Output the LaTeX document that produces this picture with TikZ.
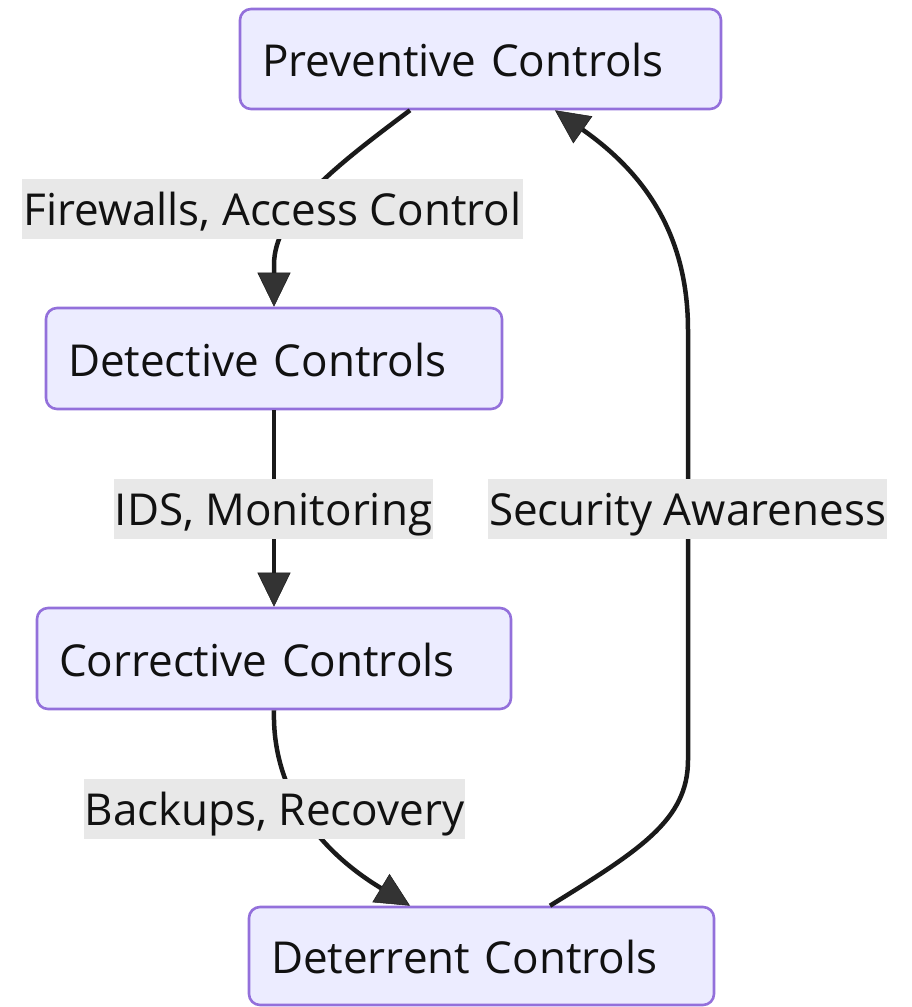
\documentclass[tikz,border=0pt]{standalone}
\usepackage{fontspec}
\setmainfont{Open Sans}
\usetikzlibrary{arrows.meta}

\definecolor{nodefill}{HTML}{ECECFF}
\definecolor{nodeline}{HTML}{9370DB}
\definecolor{labelfill}{HTML}{E8E8E8}
\definecolor{edgeline}{HTML}{1A1A1A}
\definecolor{tipfill}{HTML}{333333}
\definecolor{textcol}{HTML}{111111}

\tikzset{
  ctrlbox/.style={draw=nodeline, fill=nodefill, line width=2.6pt,
    rounded corners=11pt, inner xsep=22pt, inner ysep=0pt,
    align=left, text height=35pt, text depth=0pt,
    font=\fontsize{44pt}{50pt}\selectfont, text=textcol},
  edgelabel/.style={fill=labelfill, inner xsep=1pt, inner ysep=0pt,
    minimum height=60pt, text height=33pt, text depth=0pt,
    font=\fontsize{44pt}{50pt}\selectfont, text=textcol},
  flow/.style={draw=edgeline, line width=4.5pt,
    -{Triangle[length=34pt,width=33pt,fill=tipfill,line width=0.5pt]}},
}

\begin{document}
\begin{tikzpicture}[x=1pt,y=-1pt]
\useasboundingbox (0,0) rectangle (911,1007);

% the four control boxes
\node[ctrlbox, text width=437pt, minimum height=100pt] (prev) at (480.5,59) {Preventive Controls};
\node[ctrlbox, text width=412pt, minimum height=101pt] (det) at (274,358.5) {Detective Controls};
\node[ctrlbox, text width=430pt, minimum height=101pt] (corr) at (274,658.5) {Corrective Controls};
\node[ctrlbox, text width=421pt, minimum height=98pt] (deter) at (481.5,956) {Deterrent Controls};

% attachment points on the box borders
\coordinate (p1) at ([xshift=-70.5pt]prev.south);
\coordinate (p2) at ([xshift=74.5pt]prev.south);
\coordinate (d1) at ([xshift=-71.5pt]deter.north);
\coordinate (d2) at ([xshift=68.5pt]deter.north);

% connectors
\draw[flow] (p1) .. controls (330,170) and (274,215) .. (274,265) -- (det.north);
\draw[flow] (det.south) -- (corr.south |- corr.north);
\draw[flow] (corr.south) .. controls (272,790) and (318,850) .. (d1);
\draw[flow] (d2) .. controls (640,850) and (688,820) .. (688,760)
  -- (688,330) .. controls (688,230) and (640,170) .. (p2);

% connector labels
\node[edgelabel] (l1) at (272.5,208.5) {Firewalls, Access Control};
\node[edgelabel] (l2) at (273.5,508.5) {IDS, Monitoring};
\node[edgelabel] (l3) at (687.5,508.5) {Security Awareness};
\node[edgelabel] (l4) at (274.5,808.5) {Backups, Recovery};
\end{tikzpicture}
\end{document}
